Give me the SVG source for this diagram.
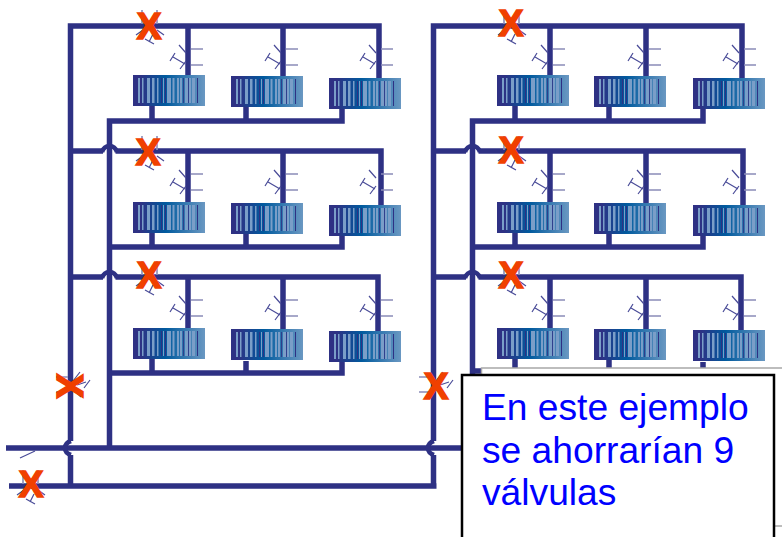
<svg xmlns="http://www.w3.org/2000/svg" width="782" height="537" viewBox="0 0 782 537">
<style>
.p{fill:none;stroke:#2e3184;stroke-width:5.500}
.t{stroke:#8a8cb8;stroke-width:1.600;fill:none}
.d{stroke:#4a4c98;stroke-width:1.200;fill:none}
.l{fill:#7a9ec8}
.k{fill:#2e3184}
.x{font:bold 37px "Liberation Sans",Arial,sans-serif;fill:#f04000;stroke:#f04000;stroke-width:1.600;text-anchor:middle}
.m{font:37.200px "Liberation Sans",Arial,sans-serif;fill:#0000ff}
</style>
<defs>
<linearGradient id="g"><stop offset="0.1" stop-color="#2e3184"/><stop offset="0.45" stop-color="#005a9e"/><stop offset="1" stop-color="#6a98c2"/></linearGradient>
<g id="rad">
<rect width="72" height="31" fill="url(#g)"/>
<path class="l" d="M5 3h2v25h-2zM9 3h1.500v25h-1.500zM14 3h3v25h-3zM19 3h2.500v25h-2.500zM24 3h1.500v25h-1.500zM30 3h1v25h-1zM34 3h4v25h-4zM39.500 3h2v25h-2zM44 3h2v25h-2zM47 3h2v25h-2zM52 3h3v25h-3zM56 3h2v25h-2zM59 3h3v25h-3z"/>
<path class="k" d="M28 3h1v25h-1zM32 3h1v25h-1zM50 3h.8v25h-.8zM55 3h.8v25h-.8zM64 3h1v25h-1z"/>
</g>
<g id="val">
<path class="t" d="M3 -8H15M3 8H15"/>
<path class="d" d="M-9 -12L-2 -4M-8 12L-2 4M-15 0L-3 7M-18 4L-13 -4"/>
</g>
<g id="valtop">
<path class="t" d="M-7 -16V-2M8 -16V-2"/>
<path class="d" d="M-13 9L-6 4M15 9L8 4M4 8L0 16M-4 13L5 18"/>
</g>
<g id="valside">
<path class="t" d="M-14 -8H-2M-14 7H-2"/>
<path class="d" d="M3 -4L10 -13M3 4L11 12M7 0L16 -3M14 3L20 -5"/>
</g>
</defs>
<g id="connectors">
<path class="p" d="M70.500 486V455M70.500 441V26H379V78M70.500 151H103M115.500 151H381V205M70.500 277H103M115.500 277H378V331"/>
<path class="p" d="M109.500 448V121H342V109M109.500 247H342V236M109.500 373H342V362"/>
<path class="p" d="M188 26V75M283 26V76M188 151V202M283 151V203M188 277V328M283 277V329"/>
<path class="p" d="M152 106V121M246 107V121M152 233V247M246 234V247M152 359V373M246 361V373"/>
<path class="p" d="M6 448H463M9 486H436.500M433.500 488V455M433.500 441V26H742V78M433.500 151H466M478.500 151H743V205M433.500 277H466M478.500 277H741V331"/>
<path class="p" d="M472.500 376V121H703V109M472.500 247H703V236"/>
<path class="p" d="M550 26V75M646 26V76M550 151V202M646 151V203M550 277V328M646 277V329"/>
<path class="p" d="M515 106V121M609 107V121M515 233V247M609 234V247"/>
<path class="p" d="M515 359V370M609 360V370M703 362V370M472 371H482"/>
<path fill="none" stroke="#2e3184" stroke-width="4.500" d="M102 152Q104 146 109.500 146T117 152M102 278Q104 272 109.500 272T117 278M465 152Q467 146 472.500 146T480 152M465 278Q467 272 472.500 272T480 278M71 441Q65 443 65 448T71 455M434 441Q428 443 428 448T434 455"/>
<path class="d" d="M20 458L35 451"/>
</g>
<g id="valves">
<use href="#val" x="188" y="57"/><use href="#val" x="283" y="57"/><use href="#val" x="378" y="57"/>
<use href="#val" x="188" y="182"/><use href="#val" x="283" y="182"/><use href="#val" x="378" y="182"/>
<use href="#val" x="188" y="308"/><use href="#val" x="283" y="308"/><use href="#val" x="378" y="308"/>
<use href="#val" x="550" y="57"/><use href="#val" x="646" y="57"/><use href="#val" x="741" y="57"/>
<use href="#val" x="550" y="182"/><use href="#val" x="646" y="182"/><use href="#val" x="741" y="182"/>
<use href="#val" x="550" y="308"/><use href="#val" x="646" y="308"/><use href="#val" x="741" y="308"/>
<use href="#valtop" x="149" y="26"/><use href="#valtop" x="149" y="152"/><use href="#valtop" x="149" y="277"/>
<use href="#valtop" x="511" y="26"/><use href="#valtop" x="511" y="152"/><use href="#valtop" x="511" y="277"/>
<use href="#valtop" x="30" y="486"/>
<use href="#valside" x="70" y="385"/><use href="#valside" x="433" y="385"/>
</g>
<g id="radiators">
<use id="r11" href="#rad" x="133" y="75"/><use id="r12" href="#rad" x="231" y="76"/><use id="r13" href="#rad" x="329" y="78"/>
<use id="r21" href="#rad" x="133" y="202"/><use id="r22" href="#rad" x="231" y="203"/><use id="r23" href="#rad" x="329" y="205"/>
<use id="r31" href="#rad" x="133" y="328"/><use id="r32" href="#rad" x="231" y="329"/><use id="r33" href="#rad" x="329" y="331"/>
<use id="r41" href="#rad" x="497" y="75"/><use id="r42" href="#rad" x="594" y="76"/><use id="r43" href="#rad" x="693" y="78"/>
<use id="r51" href="#rad" x="497" y="202"/><use id="r52" href="#rad" x="594" y="203"/><use id="r53" href="#rad" x="693" y="205"/>
<use id="r61" href="#rad" x="497" y="328"/><use id="r62" href="#rad" x="594" y="329"/><use id="r63" href="#rad" x="693" y="330"/>
</g>
<g id="marks">
<text class="x" x="149" y="39">X</text>
<text class="x" x="148" y="165">X</text>
<text class="x" x="149" y="288">X</text>
<text class="x" x="511" y="36">X</text>
<text class="x" x="511" y="163">X</text>
<text class="x" x="511" y="288">X</text>
<text class="x" x="31" y="497">X</text>
<text class="x" x="436" y="399">X</text>
<text class="x" transform="rotate(90 70 386)" x="70" y="399">X</text>
</g>
<g id="note">
<rect x="481.500" y="368" width="320" height="158" fill="#fff" stroke="#a8a8a8" stroke-width="1.500"/>
<rect x="462" y="375" width="312" height="180" fill="#fff" stroke="#000" stroke-width="2.500"/>
<text class="m" x="482" y="420">En este ejemplo</text>
<text class="m" x="482" y="463">se ahorrarían 9</text>
<text class="m" x="482" y="505">válvulas</text>
</g>
</svg>
